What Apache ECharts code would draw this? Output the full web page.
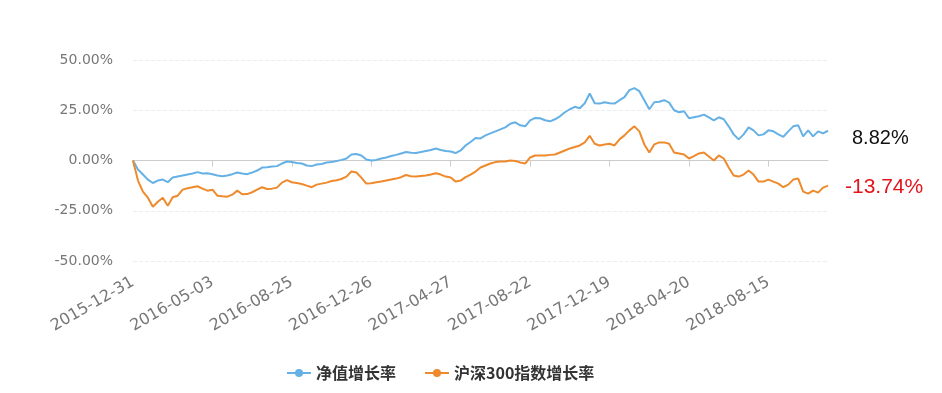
<!DOCTYPE html>
<html>
<head>
<meta charset="utf-8">
<script src="https://cdn.jsdelivr.net/npm/echarts@6/dist/echarts.min.js"></script>
<style>html,body{margin:0;padding:0;background:#fff;}#c{width:942px;height:393px;}</style>
</head>
<body>
<div id="c"></div>
<script>
const dates = [
'2015-12-31','2016-01-08','2016-01-15','2016-01-22','2016-01-29','2016-02-05','2016-02-19','2016-02-26','2016-03-04','2016-03-11','2016-03-18','2016-03-25','2016-04-01','2016-04-08','2016-04-15','2016-04-22',
'2016-05-03','2016-05-10','2016-05-17','2016-05-24','2016-05-31','2016-06-07','2016-06-15','2016-06-22','2016-06-29','2016-07-06','2016-07-13','2016-07-20','2016-07-27','2016-08-03','2016-08-10','2016-08-17',
'2016-08-25','2016-09-01','2016-09-08','2016-09-19','2016-09-26','2016-10-10','2016-10-17','2016-10-24','2016-10-31','2016-11-07','2016-11-14','2016-11-21','2016-11-28','2016-12-05','2016-12-12','2016-12-19',
'2016-12-26','2017-01-03','2017-01-10','2017-01-17','2017-01-24','2017-02-06','2017-02-13','2017-02-20','2017-02-27','2017-03-06','2017-03-13','2017-03-20','2017-03-27','2017-04-05','2017-04-12','2017-04-19',
'2017-04-27','2017-05-05','2017-05-12','2017-05-19','2017-05-26','2017-06-05','2017-06-12','2017-06-19','2017-06-26','2017-07-03','2017-07-10','2017-07-17','2017-07-24','2017-07-31','2017-08-07','2017-08-14',
'2017-08-22','2017-08-29','2017-09-05','2017-09-12','2017-09-19','2017-09-26','2017-10-10','2017-10-17','2017-10-24','2017-10-31','2017-11-07','2017-11-14','2017-11-21','2017-11-28','2017-12-05','2017-12-12',
'2017-12-19','2017-12-26','2018-01-03','2018-01-10','2018-01-17','2018-01-24','2018-01-31','2018-02-07','2018-02-14','2018-02-26','2018-03-05','2018-03-12','2018-03-19','2018-03-26','2018-04-03','2018-04-12',
'2018-04-20','2018-04-27','2018-05-07','2018-05-14','2018-05-21','2018-05-28','2018-06-04','2018-06-11','2018-06-19','2018-06-26','2018-07-03','2018-07-10','2018-07-17','2018-07-24','2018-07-31','2018-08-07',
'2018-08-15','2018-08-22','2018-08-29','2018-09-05','2018-09-12','2018-09-19','2018-09-27','2018-10-11','2018-10-18','2018-10-25','2018-11-01','2018-11-08','2018-11-15'
];
const navGrowth = [
0,-4.5,-7,-9.5,-11.2,-10,-9.5,-10.8,-8.5,-8,-7.5,-7,-6.5,-5.8,-6.5,-6.3,
-6.8,-7.5,-7.8,-7.5,-6.8,-6,-6.5,-6.8,-6,-5,-3.5,-3.3,-3,-2.8,-1.5,-0.5,
-0.8,-1.2,-1.5,-2.5,-2.8,-2,-1.7,-1,-0.8,-0.3,0.3,1,3,3.2,2.5,0.5,
0,0.3,1,1.5,2.2,2.8,3.5,4.2,3.8,3.7,4.2,4.7,5.2,6,5.2,4.7,
4.5,3.7,5,7.5,9.2,11.2,11,12.5,13.5,14.5,15.5,16.5,18.3,19,17.5,17,
20,21.2,21,20,19.5,20.5,22,24,25.5,26.7,26,28.5,33.3,28.5,28.3,29,
28.5,28.3,30,31.5,35,36,34.5,30,25.5,29,29.2,30,28.8,25,24,24.5,
21,21.5,22,22.8,21.5,20,21.5,20.5,17,13,10.5,13,16.5,15,12.5,13,
15,14.5,13,11.8,14.5,17,17.5,12,15,12,14.5,13.5,14.8
];
const hs300Growth = [
0,-10,-15.5,-18.5,-23,-20.5,-18.5,-22.5,-18.3,-17.5,-14.5,-13.8,-13.3,-12.8,-14,-15,
-14.5,-17.5,-17.8,-18,-17,-15,-16.8,-16.7,-15.8,-14.5,-13.3,-14.2,-14,-13.5,-11,-9.8,
-10.8,-11.2,-11.7,-12.5,-13.3,-12,-11.5,-11,-10.2,-9.8,-9.2,-8,-5.5,-6,-8.5,-11.5,
-11.3,-10.8,-10.5,-10,-9.5,-9,-8.3,-7.2,-7.8,-8,-7.7,-7.5,-7,-6.3,-7,-8,
-8.5,-10.5,-10,-8.3,-7,-5.5,-3.5,-2.5,-1.5,-0.8,-0.5,-0.5,0,-0.2,-1,-1.5,
1.5,2.5,2.5,2.5,2.8,3,4,5,6,6.7,7.5,9,12.3,8.3,7.5,8,
8.3,7.5,10.5,12.5,15,17,14.5,8,4,8,9,9,8.3,4,3.5,3,
1,2.2,3.5,4,2,0,2.5,1,-3.5,-7.5,-8,-7,-5,-7,-10.5,-10.5,
-9.5,-10.5,-11.5,-13.3,-12,-9.5,-9,-15.5,-16.5,-15,-16,-13.5,-12.5
];
const seriesNames = ['净值增长率', '沪深300指数增长率'];
const yTicks = [-50, -25, 0, 25, 50];
const endLabels = ['8.82%', '-13.74%'];

const chart = echarts.init(document.getElementById('c'), null, {renderer: 'canvas'});
chart.setOption({
  animation: false,
  backgroundColor: '#fff',
  color: ['#65b1e5', '#ef8a2c'],
  grid: {left: 133, right: 114, top: 60, bottom: 132, containLabel: false},
  legend: {
    bottom: 7, left: 281, itemGap: 28, itemWidth: 24, itemHeight: 10,
    textStyle: {color: '#333', fontSize: 16, fontWeight: 'bold', fontFamily: 'Noto Sans CJK SC'},
    data: seriesNames
  },
  xAxis: {
    type: 'category', boundaryGap: false, data: dates,
    axisLine: {lineStyle: {color: '#ccc'}},
    axisTick: {show: true, interval: 15, length: 6, lineStyle: {color: '#ccc'}},
    axisLabel: {interval: 15, rotate: 30, color: '#777', fontSize: 16, fontFamily: 'DejaVu Sans', margin: 20},
    splitLine: {show: false}
  },
  yAxis: {
    type: 'value', min: yTicks[0], max: yTicks[yTicks.length - 1], interval: 25,
    axisLine: {show: false}, axisTick: {show: false},
    axisLabel: {color: '#777', fontSize: 14, fontFamily: 'DejaVu Sans', margin: 20,
      formatter: v => v.toFixed(2) + '%'},
    splitLine: {lineStyle: {color: '#eee', type: 'dashed'}}
  },
  series: [
    {name: seriesNames[0], type: 'line', data: navGrowth, symbol: 'circle', symbolSize: 7, showSymbol: false,
     lineStyle: {width: 2}},
    {name: seriesNames[1], type: 'line', data: hs300Growth, symbol: 'circle', symbolSize: 7, showSymbol: false,
     lineStyle: {width: 2}}
  ],
  graphic: [
    {type: 'text', left: 852, top: 128, style: {text: endLabels[0], fill: '#111', font: '20px "Liberation Sans"'}},
    {type: 'text', left: 845, top: 177, style: {text: endLabels[1], fill: '#e3141c', font: '21px "Liberation Sans"'}}
  ]
});
</script>
</body>
</html>
